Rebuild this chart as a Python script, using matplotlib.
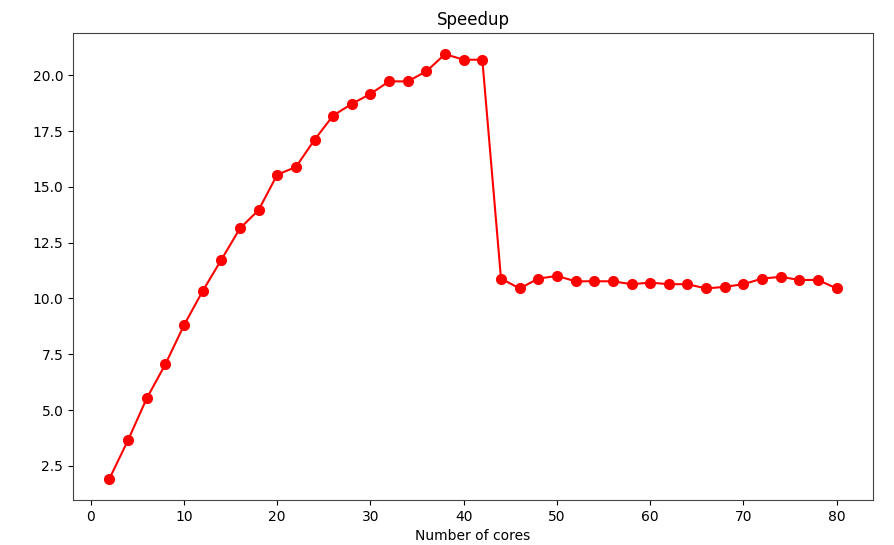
import matplotlib
matplotlib.use("Agg")
import matplotlib.pyplot as plt

cores = list(range(2, 82, 2))
speedup = [1.92, 3.65, 5.52, 7.05, 8.80, 10.33, 11.73, 13.14, 13.96, 15.55,
           15.89, 17.11, 18.20, 18.72, 19.17, 19.73, 19.73, 20.18, 20.95, 20.70,
           20.70, 10.89, 10.45, 10.89, 11.01, 10.77, 10.77, 10.77, 10.64, 10.71,
           10.64, 10.64, 10.45, 10.52, 10.64, 10.89, 10.97, 10.83, 10.83, 10.45]

fig = plt.figure(figsize=(8.94, 5.45), dpi=100)
ax = fig.add_axes([0.0817, 0.0826, 0.8948, 0.857])

ax.plot(cores, speedup, 'ro-', markersize=7, linewidth=1.5)
ax.set_title('Speedup')
ax.set_xlabel('Number of cores')

for s in ax.spines.values():
    s.set_color('#444444')

fig.savefig('out.png', dpi=100)
